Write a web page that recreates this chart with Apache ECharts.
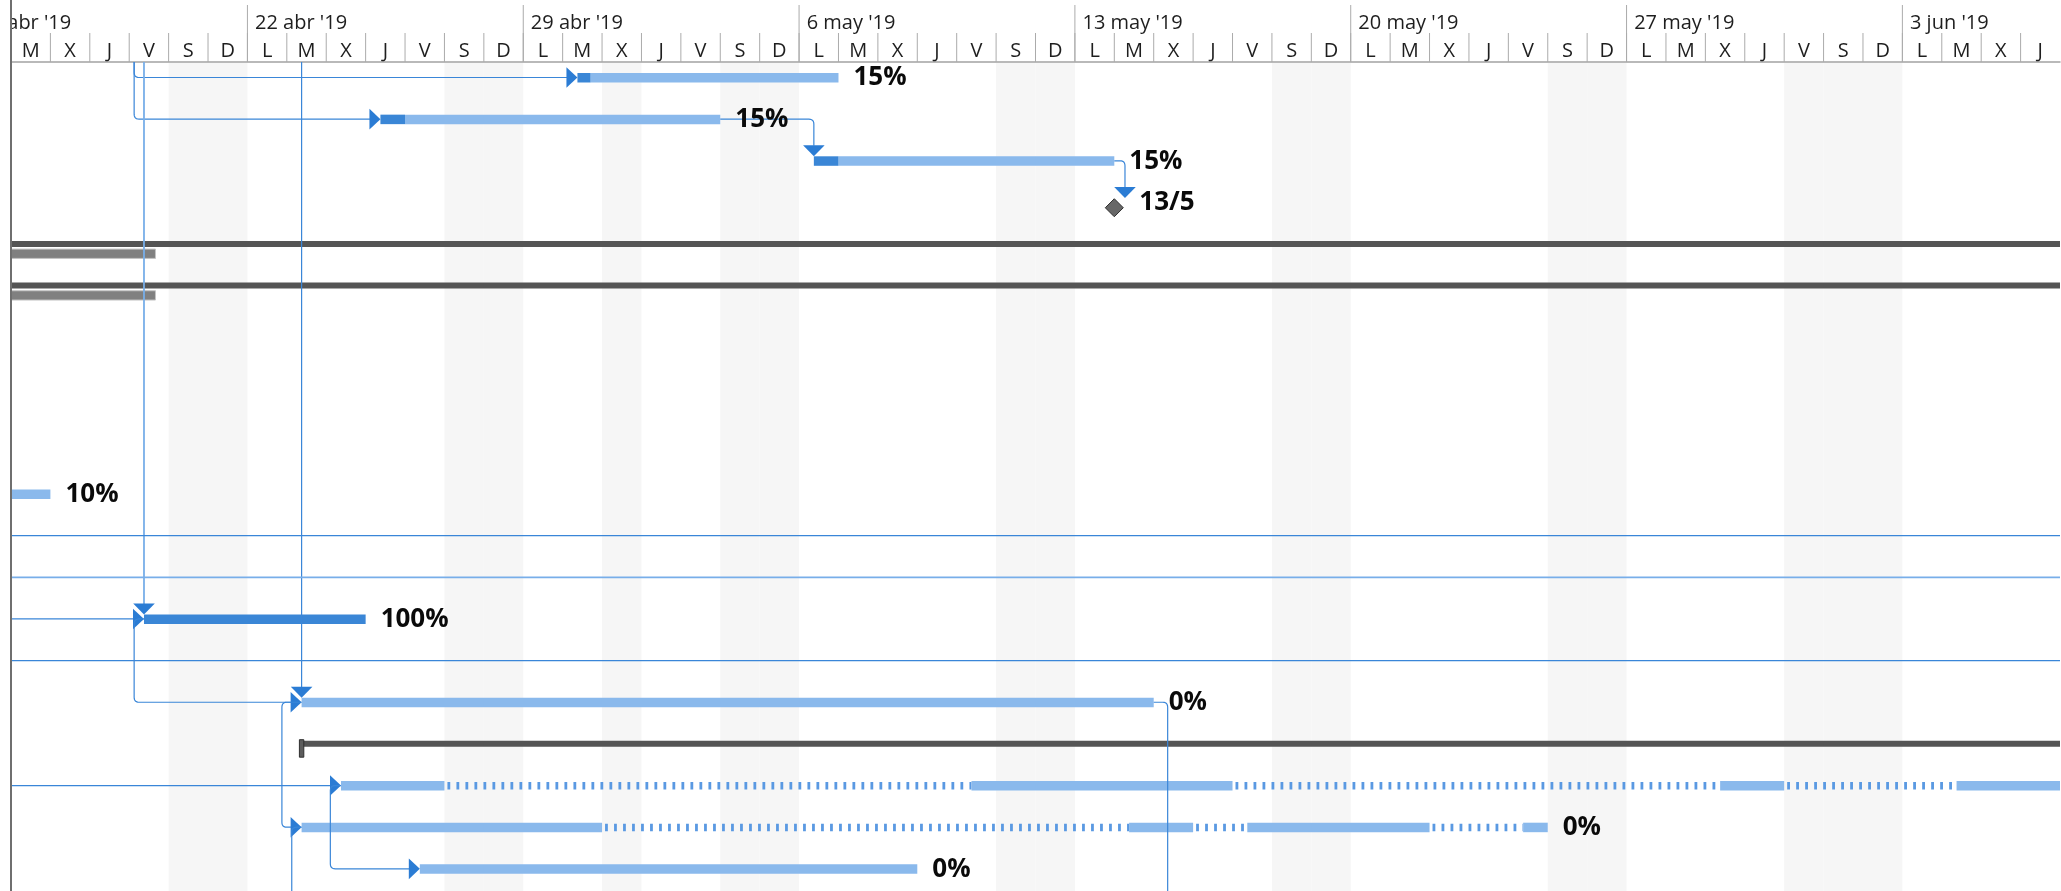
<!DOCTYPE html>
<html>
<head>
<meta charset="utf-8">
<script src="https://cdn.jsdelivr.net/npm/echarts@6/dist/echarts.min.js"></script>
<style>html,body{margin:0;padding:0;background:#fff}#c{width:2061px;height:891px}</style>
</head>
<body>
<div id="c"></div>
<script>
// ---------------- data ----------------
const viewStart = '2019-04-16 00:00';
const viewEnd   = '2019-06-07 00:00';
const dayLetters = ['L','M','X','J','V','S','D'];
const weekStarts = ['2019-04-15','2019-04-22','2019-04-29','2019-05-06','2019-05-13','2019-05-20','2019-05-27','2019-06-03'];
const weekLabels = ["15 abr '19","22 abr '19","29 abr '19","6 may '19","13 may '19","20 may '19","27 may '19","3 jun '19"];
const nonWorkingDays = ['2019-04-20','2019-04-21','2019-04-27','2019-04-28','2019-05-01','2019-05-04','2019-05-05',
  '2019-05-11','2019-05-12','2019-05-18','2019-05-19','2019-05-25','2019-05-26','2019-05-31','2019-06-01','2019-06-02'];

// normal task bars
const taskRows   = [0, 1, 2, 10, 13, 15, 19];
const taskStart  = ['2019-04-30 09:00','2019-04-25 09:00','2019-05-06 09:00','2019-04-08 09:00','2019-04-19 09:00','2019-04-23 09:00','2019-04-26 09:00'];
const taskFinish = ['2019-05-06 24:00','2019-05-03 24:00','2019-05-13 24:00','2019-04-16 24:00','2019-04-24 24:00','2019-05-14 24:00','2019-05-08 24:00'];
const taskDoneTo = ['2019-04-30 17:00','2019-04-25 24:00','2019-05-06 24:00','2019-04-09 12:00','2019-04-24 24:00','2019-04-23 09:00','2019-04-26 09:00'];
const taskLabels = ['15%','15%','15%','10%','100%','0%','0%'];

// summary bars
const sumRows   = [4, 5, 16];
const sumStart  = ['2019-04-01 09:00','2019-04-01 09:00','2019-04-23 09:00'];
const sumFinish = ['2019-07-31 24:00','2019-07-31 24:00','2019-07-31 24:00'];

// grey bars under the summaries
const greyRows   = [4, 5];
const greyStart  = ['2019-04-01 09:00','2019-04-01 09:00'];
const greyFinish = ['2019-04-19 16:00','2019-04-19 16:00'];

// split tasks
const splitRows = [17, 18];
const splitSegments = [
  [['2019-04-24 09:00','2019-04-26 24:00'],['2019-05-10 09:00','2019-05-16 24:00'],['2019-05-29 09:00','2019-05-30 24:00'],['2019-06-04 09:00','2019-06-14 24:00']],
  [['2019-04-23 09:00','2019-04-30 24:00'],['2019-05-14 09:00','2019-05-15 24:00'],['2019-05-17 09:00','2019-05-21 24:00'],['2019-05-24 09:00','2019-05-24 24:00']]
];
const splitLabels = ['', '0%'];

// milestones
const msRows   = [3];
const msDates  = ['2019-05-13 24:00'];
const msLabels = ['13/5'];

// dependency links: polyline of [date,row] points, arrow at the end
const linkPaths = [
  [['2019-04-19 03:00',-1],['2019-04-19 03:00',0],['2019-04-30 09:00',0]],
  [['2019-04-19 03:00',-1],['2019-04-19 03:00',1],['2019-04-25 09:00',1]],
  [['2019-05-03 24:00',1],['2019-05-06 09:00',1],['2019-05-06 09:00',2]],
  [['2019-05-13 24:00',2],['2019-05-14 06:30',2],['2019-05-14 06:30',3]],
  [['2019-04-19 09:00',-1],['2019-04-19 09:00',13]],
  [['2019-04-23 09:00',-1],['2019-04-23 09:00',15]],
  [['2019-04-01 00:00',13],['2019-04-19 09:00',13]],
  [['2019-04-19 09:00',13],['2019-04-19 03:00',13],['2019-04-19 03:00',15],['2019-04-23 09:00',15]],
  [['2019-04-23 09:00',15],['2019-04-22 21:00',15],['2019-04-22 21:00',18],['2019-04-23 09:00',18]],
  [['2019-04-01 00:00',17],['2019-04-24 09:00',17]],
  [['2019-04-24 09:00',17],['2019-04-24 02:30',17],['2019-04-24 02:30',19],['2019-04-26 09:00',19]],
  [['2019-04-23 09:00',18],['2019-04-23 03:00',18],['2019-04-23 03:00',21]],
  [['2019-05-14 24:00',15],['2019-05-15 08:30',15],['2019-05-15 08:30',21]],
  [['2019-04-01 00:00',11],['2019-06-30 00:00',11]],
  [['2019-04-01 00:00',12],['2019-06-30 00:00',12]],
  [['2019-04-01 00:00',14],['2019-06-30 00:00',14]]
];
const linkArrows = ['right','right','down','down','down','down','right','right','right','right','right','none','none','none','none','none'];

// ---------------- helpers ----------------
const DAY = 86400000;
function t(s){
  const parts = s.split(' ');
  const d = parts[0].split('-').map(Number);
  let hh = 0, mm = 0;
  if (parts[1]) { const h = parts[1].split(':').map(Number); hh = h[0]; mm = h[1]; }
  return Date.UTC(d[0], d[1]-1, d[2], hh, mm);
}
const X0 = t(viewStart), X1 = t(viewEnd);

const LIGHT = '#8ab9ec', DARK = '#3a86d6', ARROW = '#2b7cd4', LINK = '#3a86d8', LINKLIGHT = '#78aee9';
const lightLinks = new Set([4, 14]);
const FONT = '"Open Sans", "Noto Sans", sans-serif';

function roundedPoints(pts, r){
  const out = [pts[0]];
  for (let i = 1; i < pts.length - 1; i++){
    const [x0,y0] = pts[i-1], [x1,y1] = pts[i], [x2,y2] = pts[i+1];
    const l1 = Math.hypot(x1-x0, y1-y0), l2 = Math.hypot(x2-x1, y2-y1);
    if (l1 < 0.01 || l2 < 0.01) { out.push(pts[i]); continue; }
    const rr = Math.min(r, l1/2, l2/2);
    const ax = x1 - (x1-x0)/l1*rr, ay = y1 - (y1-y0)/l1*rr;
    const bx = x1 + (x2-x1)/l2*rr, by = y1 + (y2-y1)/l2*rr;
    for (let k = 0; k <= 6; k++){
      const u = k/6;
      out.push([(1-u)*(1-u)*ax + 2*(1-u)*u*x1 + u*u*bx, (1-u)*(1-u)*ay + 2*(1-u)*u*y1 + u*u*by]);
    }
  }
  out.push(pts[pts.length-1]);
  return out;
}

// header day list (axis ticks)
const days = [];
for (let m = X0; m < X1; m += DAY) days.push(m);

// label items built from the task arrays
const labelItems = [];
taskRows.forEach((r,i) => labelItems.push([t(taskFinish[i]), r, labelItems.length, 15, taskLabels[i]]));
splitRows.forEach((r,i) => { if (splitLabels[i]) { const seg = splitSegments[i]; labelItems.push([t(seg[seg.length-1][1]), r, labelItems.length, 15, splitLabels[i]]); } });
msRows.forEach((r,i) => labelItems.push([t(msDates[i]), r, labelItems.length, 25, msLabels[i]]));

const chart = echarts.init(document.getElementById('c'), null, {renderer: 'canvas', width: 2061, height: 891});

const option = {
  animation: false,
  backgroundColor: '#ffffff',
  grid: [
    {left: 11, right: 1, top: 0, height: 62},
    {left: 11, right: 1, top: 62, bottom: 0}
  ],
  xAxis: [
    {gridIndex: 0, type: 'value', min: X0, max: X1,
     axisLine: {show: true, onZero: false, lineStyle: {color: '#a3a3a3', width: 1.5}},
     axisTick: {show: false}, axisLabel: {show: false}, splitLine: {show: false}},
    {gridIndex: 1, type: 'value', min: X0, max: X1, show: false}
  ],
  yAxis: [
    {gridIndex: 0, type: 'value', min: 0, max: 62, inverse: true, z: 10,
     axisLine: {show: true, onZero: false, lineStyle: {color: '#6f6f6f', width: 2}},
     axisTick: {show: false}, axisLabel: {show: false}, splitLine: {show: false}},
    {gridIndex: 1, type: 'value', min: -0.3721, max: 19.532, inverse: true, z: 10,
     axisLine: {show: true, onZero: false, lineStyle: {color: '#6f6f6f', width: 2}},
     axisTick: {show: false}, axisLabel: {show: false}, splitLine: {show: false}}
  ],
  series: [
    // header: day cells
    {type: 'custom', xAxisIndex: 0, yAxisIndex: 0, clip: true, z: 2,
     data: days.map(m => [m, (new Date(m).getUTCDay() + 6) % 7]),
     renderItem: function(params, api){
       const m = api.value(0), li = api.value(1);
       const a = api.coord([m, 33]), b = api.coord([m, 62]), c = api.coord([m + DAY, 51.5]);
       return {type: 'group', children: [
         {type: 'line', shape: {x1: a[0], y1: a[1], x2: b[0], y2: b[1]}, style: {stroke: '#ababab', lineWidth: 1}},
         {type: 'text', style: {text: dayLetters[li], x: (a[0] + c[0]) / 2, y: c[1], align: 'center', verticalAlign: 'middle',
           fill: '#1e1e1e', fontSize: 20, fontFamily: FONT}}
       ]};
     }},
    // header: weeks
    {type: 'custom', xAxisIndex: 0, yAxisIndex: 0, clip: true, z: 3,
     data: weekStarts.map((w, i) => [t(w), i]),
     renderItem: function(params, api){
       const m = api.value(0), i = api.value(1);
       const a = api.coord([m, 5]), b = api.coord([m, 62]), c = api.coord([m, 23.5]);
       return {type: 'group', children: [
         {type: 'line', shape: {x1: a[0], y1: a[1], x2: b[0], y2: b[1]}, style: {stroke: '#ababab', lineWidth: 1}},
         {type: 'text', style: {text: weekLabels[i], x: c[0] + 7.6, y: c[1], align: 'left', verticalAlign: 'middle',
           fill: '#1e1e1e', fontSize: 20, fontFamily: FONT}}
       ]};
     }},
    // non working time shading
    {type: 'custom', xAxisIndex: 1, yAxisIndex: 1, clip: true, z: 1,
     data: nonWorkingDays.map(d => [t(d)]),
     renderItem: function(params, api){
       const cs = params.coordSys;
       const a = api.coord([api.value(0), 0]), b = api.coord([api.value(0) + DAY, 0]);
       return {type: 'rect', shape: {x: a[0], y: cs.y + 1, width: b[0] - a[0], height: cs.height}, style: {fill: '#f6f6f6'}};
     }},
    // summary bars
    {type: 'custom', xAxisIndex: 1, yAxisIndex: 1, clip: true, z: 2,
     data: sumRows.map((r, i) => [t(sumStart[i]), r, t(sumFinish[i])]),
     renderItem: function(params, api){
       const a = api.coord([api.value(0), api.value(1)]), b = api.coord([api.value(2), api.value(1)]);
       return {type: 'group', children: [
         {type: 'rect', shape: {x: a[0], y: a[1] - 3.2, width: b[0] - a[0], height: 6}, style: {fill: '#555555'}},
         {type: 'rect', shape: {x: a[0] - 2.2, y: a[1] - 4.2, width: 4.4, height: 17.5}, style: {fill: '#5c5c5c', stroke: '#2e2e2e', lineWidth: 1}}
       ]};
     }},
    // grey bars
    {type: 'custom', xAxisIndex: 1, yAxisIndex: 1, clip: true, z: 2,
     data: greyRows.map((r, i) => [t(greyStart[i]), r, t(greyFinish[i])]),
     renderItem: function(params, api){
       const a = api.coord([api.value(0), api.value(1)]), b = api.coord([api.value(2), api.value(1)]);
       return {type: 'rect', shape: {x: a[0], y: a[1] + 5, width: b[0] - a[0], height: 9.3},
         style: {fill: '#808080', stroke: '#c4c4c4', lineWidth: 1}};
     }},
    // task bars
    {type: 'custom', xAxisIndex: 1, yAxisIndex: 1, clip: true, z: 2,
     data: taskRows.map((r, i) => [t(taskStart[i]), r, t(taskFinish[i]), t(taskDoneTo[i])]),
     renderItem: function(params, api){
       const row = api.value(1);
       const ps = api.coord([api.value(0), row]), pe = api.coord([api.value(2), row]), pd = api.coord([api.value(3), row]);
       const y = ps[1] - 4.5, h = 9.5;
       return {type: 'group', children: [
         {type: 'rect', shape: {x: pd[0], y: y, width: Math.max(0, pe[0] - pd[0]), height: h}, style: {fill: LIGHT}},
         {type: 'rect', shape: {x: ps[0], y: y, width: Math.max(0, pd[0] - ps[0]), height: h}, style: {fill: DARK}}
       ]};
     }},
    // split tasks
    {type: 'custom', xAxisIndex: 1, yAxisIndex: 1, clip: true, z: 2,
     data: splitRows.map((r, i) => [t(splitSegments[i][0][0]), r, i]),
     renderItem: function(params, api){
       const row = api.value(1), idx = api.value(2);
       const segs = splitSegments[idx];
       const ch = [];
       for (let k = 0; k < segs.length; k++){
         const a = api.coord([t(segs[k][0]), row]), b = api.coord([t(segs[k][1]), row]);
         ch.push({type: 'rect', shape: {x: a[0], y: a[1] - 4.5, width: b[0] - a[0], height: 9.5}, style: {fill: LIGHT}});
         if (k < segs.length - 1){
           const c = api.coord([t(segs[k+1][0]), row]);
           ch.push({type: 'line', shape: {x1: b[0] + 3, y1: b[1] + 0.3, x2: c[0], y2: c[1] + 0.3},
             style: {stroke: '#5a99e2', lineWidth: 7.5, lineDash: [2.8, 6.2]}});
         }
       }
       return {type: 'group', children: ch};
     }},
    // milestones
    {type: 'custom', xAxisIndex: 1, yAxisIndex: 1, clip: true, z: 2,
     data: msRows.map((r, i) => [t(msDates[i]), r]),
     renderItem: function(params, api){
       const p = api.coord([api.value(0), api.value(1)]);
       const cx = p[0], cy = p[1] + 5.3, s = 9;
       return {type: 'polygon', shape: {points: [[cx, cy - s], [cx + s, cy], [cx, cy + s], [cx - s, cy]]},
         style: {fill: '#676767', stroke: '#2f2f2f', lineWidth: 1}};
     }},
    // links
    {type: 'custom', xAxisIndex: 1, yAxisIndex: 1, clip: true, z: 4,
     data: linkPaths.map((p, i) => [t(p[0][0]), p[0][1], i]),
     renderItem: function(params, api){
       const idx = api.value(2);
       const pts = linkPaths[idx].map(p => api.coord([t(p[0]), p[1]]));
       const arrow = linkArrows[idx];
       const last = pts[pts.length - 1];
       const ch = [];
       let tri = null;
       if (arrow === 'right'){
         const x = last[0], y = last[1];
         tri = [[x - 11, y - 10.3], [x - 11, y + 10.3], [x, y]];
         pts[pts.length - 1] = [x - 10, y];
       } else if (arrow === 'down'){
         const x = last[0], y = last[1];
         tri = [[x - 10.8, y - 15.5], [x + 10.8, y - 15.5], [x, y - 4.5]];
         pts[pts.length - 1] = [x, y - 15];
       }
       const light = lightLinks.has(idx);
       ch.push({type: 'polyline', shape: {points: roundedPoints(pts, 5)},
         style: {stroke: light ? LINKLIGHT : LINK, lineWidth: light ? 1.8 : 1.2, fill: null}});
       if (tri) ch.push({type: 'polygon', shape: {points: tri}, style: {fill: ARROW}});
       return {type: 'group', children: ch};
     }},
    // labels
    {type: 'custom', xAxisIndex: 1, yAxisIndex: 1, clip: true, z: 5,
     data: labelItems.map(l => [l[0], l[1], l[2], l[3]]),
     renderItem: function(params, api){
       const p = api.coord([api.value(0), api.value(1)]);
       const item = labelItems[api.value(2)];
       return {type: 'text', style: {text: item[4], x: p[0] + api.value(3), y: p[1] + 0.5, align: 'left', verticalAlign: 'middle',
         fill: '#0a0a0a', fontSize: 26, fontWeight: 'bold', fontFamily: FONT}};
     }}
  ]
};
chart.setOption(option);
</script>
</body>
</html>
